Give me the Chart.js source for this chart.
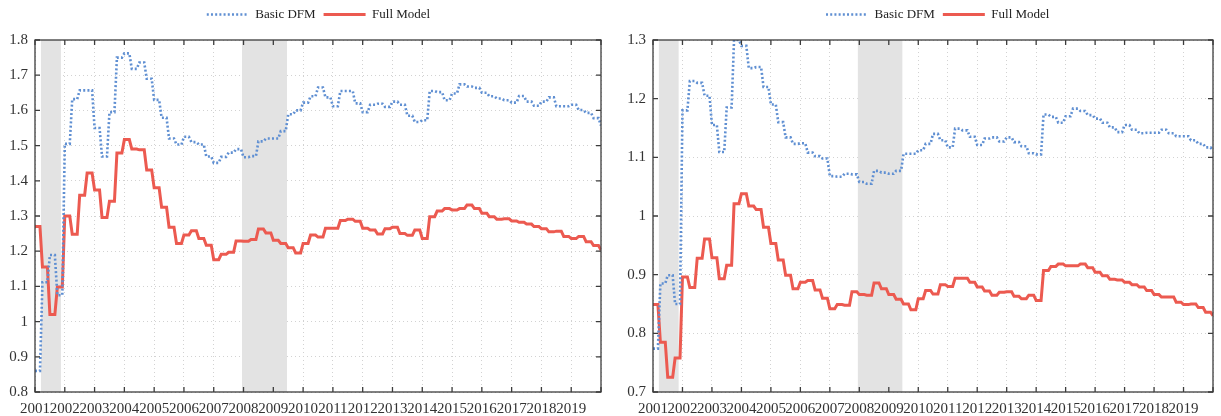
<!DOCTYPE html>
<html>
<head>
<meta charset="utf-8">
<script src="https://cdn.jsdelivr.net/npm/chart.js@4/dist/chart.umd.min.js"></script>
<style>
  body { margin: 0; background: #fff; }
  .panel { position: absolute; top: 0; height: 416px; }
</style>
</head>
<body>
<div class="panel" style="left:0;width:610px"><canvas id="leftChart"></canvas></div>
<div class="panel" style="left:610px;width:611px"><canvas id="rightChart"></canvas></div>
<script>
// quarterly values 2001Q1 .. 2019Q4, last entry = value at the end of 2019
const firstYear = 2001;
const lastYear = 2020;
const yearLabels = ['2001', '2002', '2003', '2004', '2005', '2006', '2007', '2008', '2009', '2010',
  '2011', '2012', '2013', '2014', '2015', '2016', '2017', '2018', '2019'];

// NBER recessions (in years)
const recessionStart = [2001.2, 2007.95];
const recessionEnd = [2001.87, 2009.46];

const leftBasic = [
  0.86, 1.112, 1.189, 1.075,
  1.505, 1.632, 1.657, 1.657,
  1.55, 1.469, 1.595, 1.75,
  1.762, 1.718, 1.736, 1.69,
  1.63, 1.579, 1.52, 1.503,
  1.525, 1.51, 1.503, 1.469,
  1.451, 1.468, 1.48, 1.49,
  1.467, 1.47, 1.512, 1.52,
  1.52, 1.541, 1.589, 1.6,
  1.622, 1.64, 1.665, 1.637,
  1.612, 1.655, 1.655, 1.62,
  1.595, 1.616, 1.619, 1.61,
  1.625, 1.616, 1.585, 1.567,
  1.572, 1.655, 1.652, 1.629,
  1.648, 1.674, 1.668, 1.664,
  1.65, 1.64, 1.634, 1.629,
  1.622, 1.641, 1.625, 1.613,
  1.625, 1.637, 1.612, 1.612,
  1.616, 1.601, 1.593, 1.578,
  1.557
];
const leftFull = [
  1.27, 1.155, 1.02, 1.098,
  1.30, 1.248, 1.359, 1.422,
  1.374, 1.296, 1.342, 1.479,
  1.517, 1.49, 1.488, 1.431,
  1.38, 1.325, 1.268, 1.222,
  1.246, 1.258, 1.236, 1.217,
  1.176, 1.191, 1.197, 1.229,
  1.228, 1.233, 1.263, 1.252,
  1.231, 1.222, 1.21, 1.195,
  1.222, 1.246, 1.24, 1.265,
  1.265, 1.287, 1.291, 1.285,
  1.265, 1.26, 1.249, 1.264,
  1.268, 1.25, 1.245, 1.26,
  1.236, 1.298, 1.314, 1.321,
  1.317, 1.321, 1.331, 1.321,
  1.308, 1.298, 1.291, 1.292,
  1.286, 1.282, 1.277, 1.27,
  1.264, 1.255, 1.257, 1.242,
  1.236, 1.242, 1.227, 1.216,
  1.203
];
const rightBasic = [
  0.774, 0.885, 0.899, 0.85,
  1.18, 1.23, 1.227, 1.205,
  1.155, 1.109, 1.185, 1.30,
  1.29, 1.252, 1.254, 1.22,
  1.19, 1.16, 1.134, 1.123,
  1.124, 1.108, 1.102, 1.098,
  1.068, 1.067, 1.072, 1.071,
  1.058, 1.055, 1.077, 1.074,
  1.072, 1.077, 1.106, 1.106,
  1.112, 1.123, 1.14, 1.129,
  1.117, 1.149, 1.146, 1.135,
  1.121, 1.132, 1.134, 1.127,
  1.134, 1.126, 1.119, 1.107,
  1.105, 1.173, 1.169, 1.159,
  1.17, 1.183, 1.179, 1.172,
  1.166, 1.159, 1.151, 1.143,
  1.155, 1.147, 1.141, 1.142,
  1.142, 1.147, 1.141, 1.136,
  1.136, 1.129, 1.123, 1.117,
  1.112
];
const rightFull = [
  0.849, 0.785, 0.725, 0.758,
  0.896, 0.878, 0.928, 0.961,
  0.929, 0.893, 0.916, 1.021,
  1.038, 1.017, 1.011, 0.981,
  0.953, 0.925, 0.899, 0.876,
  0.887, 0.89, 0.874, 0.86,
  0.842, 0.849, 0.848, 0.871,
  0.866, 0.865, 0.886, 0.876,
  0.866, 0.858, 0.85, 0.84,
  0.859, 0.873, 0.867, 0.883,
  0.88, 0.894, 0.894, 0.887,
  0.879, 0.872, 0.865, 0.87,
  0.871, 0.863, 0.859, 0.865,
  0.856, 0.907, 0.914, 0.918,
  0.915, 0.915, 0.918, 0.912,
  0.904, 0.898, 0.892, 0.891,
  0.887, 0.883, 0.879, 0.873,
  0.866, 0.862, 0.862, 0.853,
  0.849, 0.85, 0.844, 0.836,
  0.83
];

// each quarter's value holds for two months, then moves to the next one
function toPoints(values) {
  const pts = [];
  for (let i = 0; i < values.length - 1; i++) {
    const t = firstYear + i / 4;
    pts.push({ x: t, y: values[i] }, { x: t + 2 / 12, y: values[i] });
  }
  pts.push({ x: lastYear, y: values[values.length - 1] });
  return pts;
}

Chart.defaults.font.family = "'Liberation Serif', 'Times New Roman', serif";
Chart.defaults.color = '#333';

// grey bands for recessions, drawn over the grid but under the lines
const shadePlugin = {
  id: 'shade',
  beforeDatasetsDraw(chart) {
    const { ctx, chartArea, scales: { x } } = chart;
    ctx.save();
    ctx.fillStyle = '#e3e3e3';
    recessionStart.forEach(function (s, i) {
      const a = x.getPixelForValue(s);
      const b = x.getPixelForValue(recessionEnd[i]);
      ctx.fillRect(a, chartArea.top, b - a, chartArea.bottom - chartArea.top);
    });
    ctx.restore();
  }
};

// box around the plot with inward tick marks on all four sides
const framePlugin = {
  id: 'frame',
  afterDatasetsDraw(chart) {
    const { ctx, chartArea: a, scales: { x, y } } = chart;
    ctx.save();
    ctx.strokeStyle = '#3c3c3c';
    ctx.lineWidth = 1.3;
    ctx.beginPath();
    x.ticks.forEach(function (t) {
      const p = x.getPixelForValue(t.value);
      ctx.moveTo(p, a.bottom); ctx.lineTo(p, a.bottom - 5);
      ctx.moveTo(p, a.top); ctx.lineTo(p, a.top + 5);
    });
    y.ticks.forEach(function (t) {
      const p = y.getPixelForValue(t.value);
      ctx.moveTo(a.left, p); ctx.lineTo(a.left + 5, p);
      ctx.moveTo(a.right, p); ctx.lineTo(a.right - 5, p);
    });
    ctx.stroke();
    ctx.strokeRect(a.left, a.top, a.right - a.left, a.bottom - a.top);
    ctx.restore();
  }
};

// fixed legend height and a small sideways offset
const legendBoxPlugin = {
  id: 'legendBox',
  beforeInit(chart, args, opts) {
    const fit = chart.legend.fit;
    chart.legend.fit = function () {
      fit.call(this);
      this.height = opts.height;
    };
  },
  afterLayout(chart, args, opts) {
    chart.legend.left += opts.dx;
    chart.legend.right += opts.dx;
  }
};

// legend lines keep the dataset's dash and width
function legendLabels(chart) {
  const items = Chart.defaults.plugins.legend.labels.generateLabels(chart);
  items.forEach(function (item) {
    const ds = chart.data.datasets[item.datasetIndex];
    item.lineDash = ds.borderDash || [];
    item.lineWidth = ds.borderWidth;
    item.strokeStyle = ds.borderColor;
    item.pointStyle = 'line';
  });
  return items;
}

function makeChart(id, basic, full, yMin, yMax, axisWidth, padRight, legendDx) {
  const ctx = document.getElementById(id).getContext('2d');
  return new Chart(ctx, {
    type: 'line',
    data: {
      datasets: [{
        label: 'Basic DFM',
        data: toPoints(basic),
        borderColor: '#5f8fd2',
        backgroundColor: '#5f8fd2',
        borderWidth: 2.6,
        borderDash: [2, 2.2],
        pointRadius: 0,
        tension: 0
      }, {
        label: 'Full Model',
        data: toPoints(full),
        borderColor: '#ec5a50',
        backgroundColor: '#ec5a50',
        borderWidth: 3,
        pointRadius: 0,
        tension: 0
      }]
    },
    options: {
      responsive: true,
      maintainAspectRatio: false,
      animation: false,
      layout: { padding: { top: 0, left: 0, right: padRight, bottom: 0 } },
      plugins: {
        tooltip: { enabled: false },
        legend: {
          position: 'top',
          labels: {
            usePointStyle: true,
            pointStyle: 'line',
            pointStyleWidth: 42,
            padding: 8,
            color: '#222',
            font: { size: 13 },
            generateLabels: legendLabels
          }
        },
        legendBox: { height: 40, dx: legendDx }
      },
      scales: {
        x: {
          type: 'linear',
          min: firstYear,
          max: lastYear,
          afterFit: function (scale) { scale.height = 24; },
          ticks: {
            stepSize: 1,
            autoSkip: false,
            maxRotation: 0,
            minRotation: 0,
            padding: 8,
            font: { size: 15 },
            color: '#333',
            callback: function (v) { return yearLabels[v - firstYear] || ''; }
          },
          grid: { color: '#d2d2d2', lineWidth: 1, drawTicks: false },
          border: { display: false, dash: [1, 3] }
        },
        y: {
          min: yMin,
          max: yMax,
          afterFit: function (scale) { scale.width = axisWidth; },
          ticks: {
            stepSize: 0.1,
            padding: 7,
            font: { size: 15 },
            color: '#333',
            callback: function (v) { return String(Number(v.toFixed(1))); }
          },
          grid: { color: '#d2d2d2', lineWidth: 1, drawTicks: false },
          border: { display: false, dash: [1, 3] }
        }
      }
    },
    plugins: [shadePlugin, framePlugin, legendBoxPlugin]
  });
}

makeChart('leftChart', leftBasic, leftFull, 0.8, 1.8, 35, 9, 18);
makeChart('rightChart', rightBasic, rightFull, 0.7, 1.3, 43, 1.5, 23);
</script>
</body>
</html>
